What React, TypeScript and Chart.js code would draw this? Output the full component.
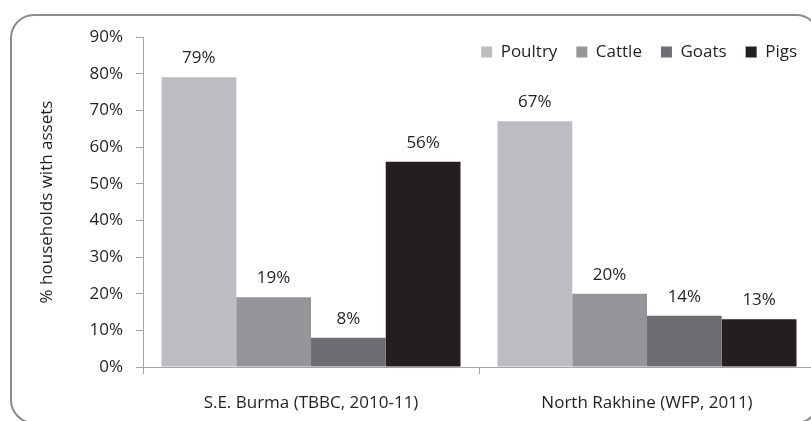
import React, { useEffect, useRef } from "react";
import { Chart, registerables } from "chart.js";

Chart.register(...registerables);

// ---- data ----
const categories = ["S.E. Burma (TBBC, 2010-11)", "North Rakhine (WFP, 2011)"];
const seriesNames = ["Poultry", "Cattle", "Goats", "Pigs"];
const poultry = [79, 67];
const cattle = [19, 20];
const goats = [8, 14];
const pigs = [56, 13];
const seriesValues = [poultry, cattle, goats, pigs];
const yMin = 0;
const yMax = 90;
const yStep = 10;
const yAxisTitle = "% households with assets";

// ---- styles ----
const seriesColors = ["#BCBDC0", "#939598", "#6D6E71", "#231F20"];
const FONT = "'Open Sans', sans-serif";
const FONT_SIZE = 17;
const TEXT = "#231F20";
const AXIS = "#A3A3A3";
const W = 840;
const H = 440;
const AREA = { left: 143, top: 37, right: 815, bottom: 367 };
const LEGEND_PAD = 19;
const LEGEND_CENTER_Y = 52;
const LEGEND_LAST_RIGHT = 797;

const legendPlacer = {
  id: "legendPlacer",
  afterLayout(chart: any) {
    const lg = chart.legend;
    if (!lg) return;
    const h = lg.height;
    const top = LEGEND_CENTER_Y - FONT_SIZE / 2 - LEGEND_PAD;
    lg.top = top;
    lg.bottom = top + h;
    lg.right = LEGEND_LAST_RIGHT + LEGEND_PAD;
    lg.left = 300;
    lg.width = lg.right - lg.left;
  },
};

const valueLabels = {
  id: "valueLabels",
  afterDatasetsDraw(chart: any) {
    const ctx = chart.ctx;
    ctx.save();
    ctx.font = `${FONT_SIZE}px ${FONT}`;
    ctx.fillStyle = TEXT;
    ctx.textAlign = "center";
    ctx.textBaseline = "middle";
    chart.data.datasets.forEach((ds: any, i: number) => {
      const meta = chart.getDatasetMeta(i);
      meta.data.forEach((el: any, j: number) => {
        ctx.fillText(`${ds.data[j]}%`, el.x, el.y - 19);
      });
    });
    ctx.restore();
  },
};

export default function App() {
  const ref = useRef<HTMLCanvasElement>(null);

  useEffect(() => {
    const canvas = ref.current;
    if (!canvas) return;
    const padding = { left: 0, right: W - AREA.right, top: 0, bottom: 0 };
    const font = { family: FONT, size: FONT_SIZE };
    const chart = new Chart(canvas, {
      type: "bar",
      data: {
        labels: categories,
        datasets: seriesNames.map((name, i) => ({
          label: name,
          data: seriesValues[i],
          backgroundColor: seriesColors[i],
          borderWidth: 0,
          categoryPercentage: 0.89,
          barPercentage: 1,
        })),
      },
      options: {
        responsive: false,
        animation: false,
        devicePixelRatio: 1,
        layout: { padding },
        plugins: {
          legend: {
            display: true,
            position: "top",
            align: "end",
            labels: {
              boxWidth: 11,
              boxHeight: 11,
              padding: LEGEND_PAD,
              color: TEXT,
              font,
            },
          },
          tooltip: { enabled: false },
        },
        scales: {
          x: {
            grid: {
              drawOnChartArea: false,
              drawTicks: true,
              tickLength: 7,
              color: AXIS,
              offset: true,
            },
            border: { color: AXIS, width: 1 },
            ticks: {
              color: TEXT,
              font,
              padding: 19,
              maxRotation: 0,
              autoSkip: false,
            },
            afterFit: (s: any) => {
              s.height = H - AREA.bottom;
            },
          },
          y: {
            min: yMin,
            max: yMax,
            grid: {
              drawOnChartArea: false,
              drawTicks: true,
              tickLength: 7,
              color: AXIS,
            },
            border: { color: AXIS, width: 1 },
            ticks: {
              stepSize: yStep,
              padding: 13,
              color: TEXT,
              font,
              callback: (v: any) => `${v}%`,
            },
            title: {
              display: true,
              text: yAxisTitle,
              color: TEXT,
              font,
              padding: { top: 37, bottom: 0 },
            },
            afterFit: (s: any) => {
              s.width = AREA.left;
            },
          },
        },
      },
      plugins: [legendPlacer, valueLabels],
    } as any);

    const diff = AREA.top - chart.chartArea.top;
    if (Math.abs(diff) > 0.01) {
      (chart.config.options as any).layout.padding = { ...padding, top: padding.top + diff };
      chart.update();
    }
    return () => chart.destroy();
  }, []);

  return (
    <div
      style={{
        position: "fixed",
        left: 0,
        top: 0,
        width: "100vw",
        height: "100vh",
        overflow: "hidden",
        background: "#fff",
      }}
    >
      <div
        style={{
          position: "absolute",
          left: 10,
          top: 14,
          width: 810,
          height: 410,
          boxSizing: "border-box",
          border: "2px solid #8C8C8C",
          borderRadius: 24,
        }}
      />
      <canvas
        ref={ref}
        width={W}
        height={H}
        style={{ position: "absolute", left: 0, top: 0, width: W, height: H }}
      />
    </div>
  );
}
